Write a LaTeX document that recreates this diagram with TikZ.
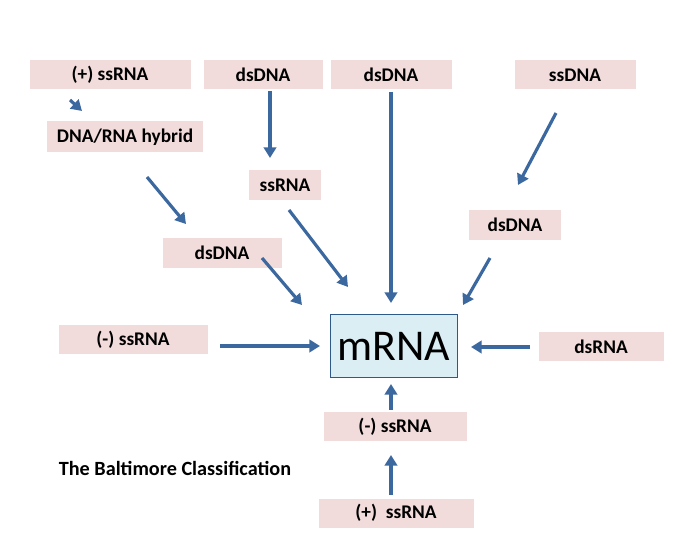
\documentclass[tikz,border=0pt]{standalone}
\usepackage{fontspec}
\setmainfont{Carlito}
\usetikzlibrary{arrows.meta}
\definecolor{pinkbox}{HTML}{F2DCDB}
\definecolor{arr}{HTML}{3C68A0}
\definecolor{mbox}{HTML}{DAEEF3}
\definecolor{mborder}{HTML}{2E5A8A}
\begin{document}
\begin{tikzpicture}[x=0.02cm,y=-0.02cm,
  pb/.style={fill=pinkbox,draw=none,font=\bfseries\fontsize{11}{13}\selectfont,inner sep=0pt},
  ar/.style={draw=arr,line width=1.8pt,-{Triangle[length=6pt,width=7pt]}}]
\useasboundingbox (0,0) rectangle (700,550);
\node[pb,minimum width=161*0.02cm,minimum height=29*0.02cm] (a) at (110,75) {(+) ssRNA};
\node[pb,minimum width=119*0.02cm,minimum height=29*0.02cm] (b) at (263,75) {dsDNA};
\node[pb,minimum width=121*0.02cm,minimum height=29*0.02cm] (c) at (391,75) {dsDNA};
\node[pb,minimum width=121*0.02cm,minimum height=29*0.02cm] (d) at (575,75) {ssDNA};
\node[pb,minimum width=156*0.02cm,minimum height=31*0.02cm] (e) at (125,137) {DNA/RNA hybrid};
\node[pb,minimum width=72*0.02cm,minimum height=30*0.02cm] (f) at (285,185) {ssRNA};
\node[pb,minimum width=92*0.02cm,minimum height=30*0.02cm] (g) at (515,225) {dsDNA};
\node[pb,minimum width=119*0.02cm,minimum height=30*0.02cm] (h) at (222,253) {dsDNA};
\node[pb,minimum width=149*0.02cm,minimum height=29*0.02cm] (i) at (133,340) {(-) ssRNA};
\node[fill=mbox,draw=mborder,line width=0.8pt,minimum width=127*0.02cm,minimum height=63*0.02cm,inner sep=0pt,font=\fontsize{25}{30}\selectfont] (m) at (394,346) {mRNA};
\node[pb,minimum width=125*0.02cm,minimum height=29*0.02cm] (j) at (601,347) {dsRNA};
\node[pb,minimum width=143*0.02cm,minimum height=29*0.02cm] (k) at (395,427) {(-) ssRNA};
\node[pb,minimum width=155*0.02cm,minimum height=29*0.02cm] (l) at (396,513) {(+)\ \ ssRNA};
\node[font=\bfseries\fontsize{11.5}{13}\selectfont] (t) at (175,468) {The Baltimore Classification};
\coordinate (a1) at (70,100); \coordinate (a2) at (82,111);
\coordinate (e1) at (147,177); \coordinate (e2) at (186,224);
\coordinate (b1) at (270,91); \coordinate (b2) at (270,158);
\coordinate (f1) at (289,210); \coordinate (f2) at (348,287);
\coordinate (h1) at (262,258); \coordinate (h2) at (302,305);
\coordinate (c1) at (391,92); \coordinate (c2) at (391,303);
\coordinate (d1) at (556,113); \coordinate (d2) at (518,185);
\coordinate (g1) at (490,258); \coordinate (g2) at (463,305);
\coordinate (i1) at (220,346); \coordinate (i2) at (320,346);
\coordinate (j1) at (530,347); \coordinate (j2) at (471,347);
\coordinate (k1) at (391,410); \coordinate (k2) at (391,384);
\coordinate (l1) at (391,495); \coordinate (l2) at (391,455);
\foreach \p in {a,e,b,f,h,c,d,g,i,j,k,l} \draw[ar] (\p1) -- (\p2);
\end{tikzpicture}
\end{document}
